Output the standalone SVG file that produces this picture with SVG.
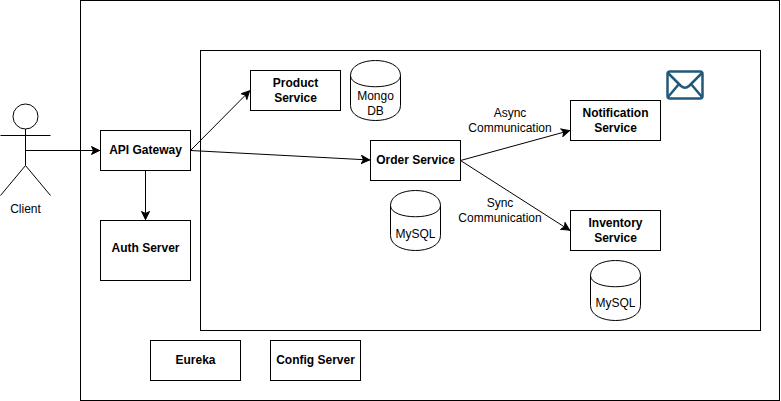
<svg xmlns="http://www.w3.org/2000/svg" width="781" height="401" viewBox="0 0 781 401">
<style>
.s{fill:#fff;stroke:#000;stroke-width:1}
.n{fill:none;stroke:#000;stroke-width:1}
text{font-family:"Liberation Sans",Arial,sans-serif;font-size:12px;fill:#000;text-anchor:middle}
.b{font-weight:bold}
.c{fill:none;stroke:#000;stroke-width:1;marker-end:url(#a)}
</style>
<defs>
<marker id="a" markerUnits="userSpaceOnUse" markerWidth="11" markerHeight="10" refX="9" refY="4.5" orient="auto">
<path d="M0.5 0.5L8.5 4.5L0.5 8.5L2.5 4.5Z" fill="#000" stroke="#000"/>
</marker>
<g id="cyl"><path class="s" d="M0 15C0 -5 50 -5 50 15V45C50 65 0 65 0 45Z"/><path class="n" d="M0 15C0 30 50 30 50 15"/></g>
</defs>
<rect width="781" height="401" fill="#fff"/>
<g id="outer"><rect class="s" x="80.500" y="0.500" width="699" height="400"/></g>
<g id="inner"><rect class="s" x="200.500" y="50.500" width="560" height="280"/></g>
<g id="connectors">
<path class="c" d="M25.500 150.500H100"/>
<path class="c" d="M145.500 170.500V220"/>
<path class="c" d="M190.500 150.500L250 90.500"/>
<path class="c" d="M190.500 150.500L370 160"/>
<path class="c" d="M460.500 160.500L570 130.500"/>
<path class="c" d="M460.500 160.500L570 230.500"/>
</g>
<g id="client">
<circle class="n" cx="25.500" cy="116.500" r="12.500"/>
<path class="n" d="M25.500 129V165.500M0.500 135.500H50.500M25.500 165.500L0.500 195.500M25.500 165.500L50.500 195.500"/>
<text x="25.500" y="213">Client</text>
</g>
<g id="api-gateway"><rect class="s" x="100.500" y="130.500" width="90" height="40"/><text class="b" x="145.500" y="154">API Gateway</text></g>
<g id="auth-server"><rect class="s" x="100.500" y="220.500" width="90" height="60"/><text class="b" x="145.500" y="252">Auth Server</text></g>
<g id="product-service"><rect class="s" x="250.500" y="70.500" width="90" height="40"/><text class="b" x="295.500" y="86.500">Product</text><text class="b" x="295.500" y="101.500">Service</text></g>
<g id="mongo-db"><use href="#cyl" x="350.500" y="60.500"/><text x="375.500" y="100">Mongo</text><text x="375.500" y="115">DB</text></g>
<g id="order-service"><rect class="s" x="370.500" y="140.500" width="90" height="40"/><text class="b" x="415.500" y="164">Order Service</text></g>
<g id="mysql-order"><use href="#cyl" x="390.500" y="190.500"/><text x="415.500" y="238">MySQL</text></g>
<g id="notification-service"><rect class="s" x="570.500" y="100.500" width="90" height="40"/><text class="b" x="615.500" y="116.500">Notification</text><text class="b" x="615.500" y="131.500">Service</text></g>
<g id="inventory-service"><rect class="s" x="570.500" y="210.500" width="90" height="40"/><text class="b" x="615.500" y="226.500">Inventory</text><text class="b" x="615.500" y="241.500">Service</text></g>
<g id="mysql-inventory"><use href="#cyl" x="590.500" y="260.500"/><text x="615.500" y="307">MySQL</text></g>
<g id="mail-icon"><rect x="667.500" y="71.500" width="35" height="27" rx="2.500" fill="#fff" stroke="#23587a" stroke-width="2.500"/><path d="M668 73L681 86Q685 89.500 689 86L702 73M668 97L679 84M702 97L691 84" fill="none" stroke="#23587a" stroke-width="2.500"/></g>
<g id="eureka"><rect class="s" x="150.500" y="340.500" width="90" height="40"/><text class="b" x="195.500" y="364">Eureka</text></g>
<g id="config-server"><rect class="s" x="270.500" y="340.500" width="90" height="40"/><text class="b" x="315.500" y="364">Config Server</text></g>
<text x="510" y="117">Async</text>
<text x="510" y="132">Communication</text>
<text x="500" y="207">Sync</text>
<text x="500" y="222">Communication</text>
</svg>
